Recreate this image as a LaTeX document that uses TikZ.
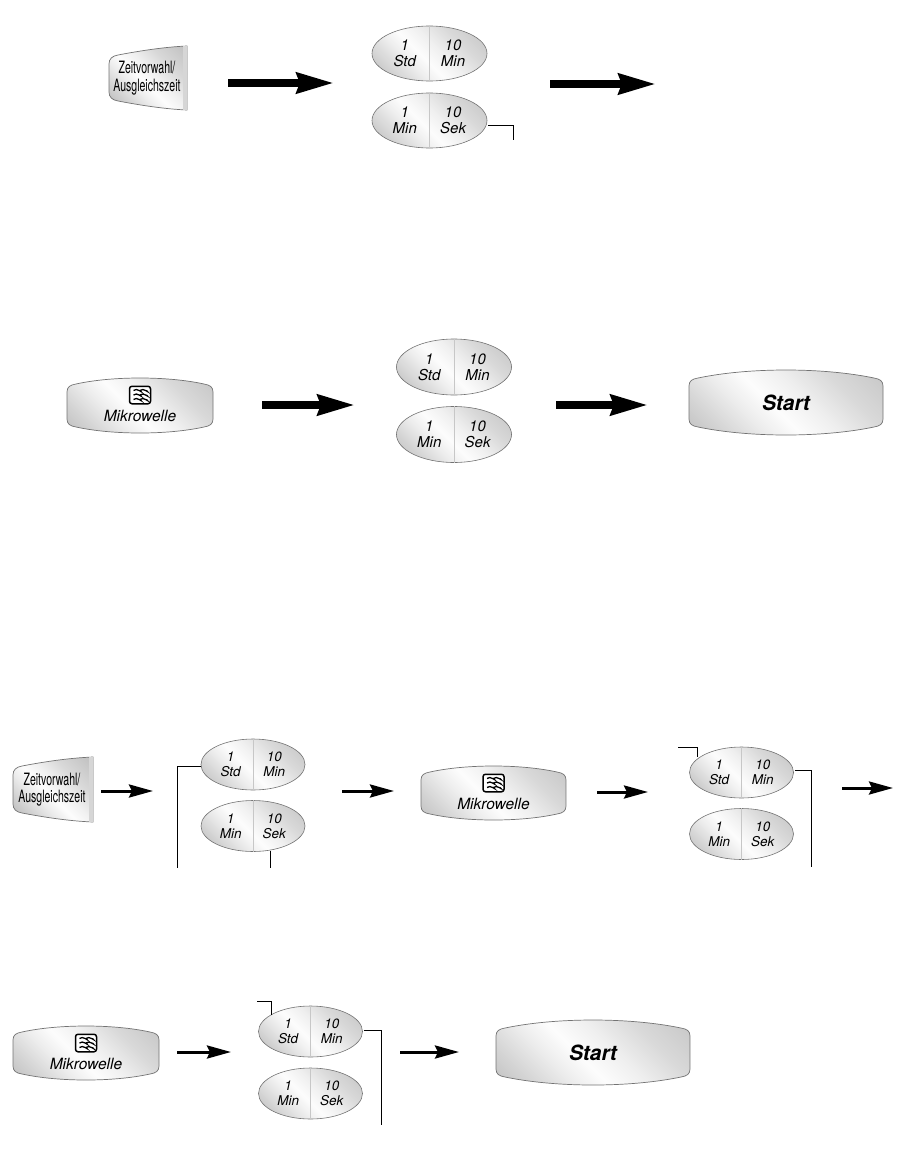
\documentclass[tikz,border=0pt]{standalone}
\usepackage{fontspec}
\setmainfont{TeX Gyre Heros}
\newfontfamily\condfont[FakeStretch=0.62]{TeX Gyre Heros}
\usetikzlibrary{arrows.meta,shapes.geometric}
\pgfdeclarehorizontalshading{silver}{100bp}{
  color(0bp)=(black!28);color(25bp)=(black!26);color(33bp)=(black!17);color(41bp)=(black!7);
  color(47bp)=(black!1);color(54bp)=(black!6);color(63bp)=(black!15);color(75bp)=(black!23);color(100bp)=(black!25)}
\tikzset{
  x=1pt,y=-1pt,
  silverfill/.style={path picture={
    \shade[shading=silver,shading angle=45]
      ([shift={(-#1pt,#1pt)}]path picture bounding box.center) rectangle
      ([shift={(#1pt,-#1pt)}]path picture bounding box.center);}},
  oval/.style={ellipse,draw=black!55,line width=.6pt,inner sep=0pt},
  btnline/.style={draw=black!55,line width=.7pt},
  divider/.style={draw=black!22,line width=.8pt},
  lead/.style={draw=black,line width=.8pt},
  bigarrow/.style={draw=black,line width=8pt,-{Stealth[length=37pt,width=20pt,inset=3pt]},shorten >=-2pt},
  smallarrow/.style={draw=black,line width=3pt,-{Stealth[length=24pt,width=13pt,inset=3pt]},shorten >=-1pt},
  keytext/.style={inner sep=0pt,align=center},
}
% id cx cy rx ry fontsize baseline l1\\l2 r1\\r2
\newcommand{\ovalpair}[9]{%
  \node[oval,silverfill=#4,minimum width=#4*2pt,minimum height=#5*2pt] (#1) at (#2,#3) {};
  \draw[divider] (#1.north) -- (#1.south);
  \node[keytext,font=\fontsize{#6}{#7}\selectfont\itshape] (#1-l) at (#2-#4*.43,#3) {#8};
  \node[keytext,font=\fontsize{#6}{#7}\selectfont\itshape] (#1-r) at (#2+#4*.41,#3) {#9};
}
% bow halfwidth x1 y1 x2 y2
\newcommand{\widebutton}[6]{%
  \path[btnline,silverfill=#2] (#3+9,#4+#1) .. controls (#3+#2*.62,#4-#1/3) and (#5-#2*.62,#4-#1/3) .. (#5-9,#4+#1)
    .. controls (#5-3,#4+#1+1) and (#5,#4+#1+3) .. (#5,#4+#1+8)
    -- (#5,#6-#1-8) .. controls (#5,#6-#1-3) and (#5-3,#6-#1-1) .. (#5-9,#6-#1)
    .. controls (#5-#2*.62,#6+#1/3) and (#3+#2*.62,#6+#1/3) .. (#3+9,#6-#1)
    .. controls (#3+3,#6-#1-1) and (#3,#6-#1-3) .. (#3,#6-#1-8)
    -- (#3,#4+#1+8) .. controls (#3,#4+#1+3) and (#3+3,#4+#1+1) .. (#3+9,#4+#1) -- cycle;
}
% id x1 y1 x2 y2
\newcommand{\zeitbutton}[5]{%
  \path[btnline,silverfill=45] (#2+9,#3+9) .. controls (#2+30,#3+5) and (#2+55,#3+1) .. (#4,#3) -- (#4,#5)
    .. controls (#2+55,#5-1) and (#2+30,#5-5) .. (#2+9,#5-9)
    .. controls (#2+3,#5-10) and (#2,#5-13) .. (#2,#5-18)
    -- (#2,#3+18) .. controls (#2,#3+13) and (#2+3,#3+10) .. (#2+9,#3+9) -- cycle;
  \fill[black!16] (#4-4,#3) -- (#4,#3) -- (#4,#5) -- (#4-4,#5) -- cycle;
  \node[inner sep=0pt,align=center,font=\fontsize{17}{17.5}\condfont] (#1) at (#2*.5+#4*.5-1,#3*.5+#5*.5) {Zeitvorwahl/\\Ausgleichszeit};
}
\newcommand{\mikrobutton}[5]{%
  \widebutton{6}{73}{#2}{#3}{#4}{#5}
  \node[draw=black,line width=1.5pt,rounded corners=2.5pt,fill=white,minimum width=21pt,minimum height=17.5pt,inner sep=0pt] (#1-icon) at (#2*.5+#4*.5,#3+17) {};
  \foreach \dy in {-4.5,0,4.5} {
    \draw[black,line width=1.3pt] ([xshift=-6.5pt,yshift=-\dy pt]#1-icon.center) .. controls +(3,-3.5) and +(3.5,3.5) .. ++(6.5,0) .. controls +(3,-3.5) and +(3.5,3.5) .. ++(6.5,0);
  }
  \node[inner sep=0pt,font=\fontsize{15.5}{18}\selectfont\itshape] (#1) at (#2*.5+#4*.5,#3+38) {Mikrowelle};
}
\newcommand{\startbutton}[5]{%
  \widebutton{8}{97}{#2}{#3}{#4}{#5}
  \node[inner sep=0pt,font=\fontsize{21}{24}\selectfont\bfseries\itshape] (#1) at (#2*.5+#4*.5,#3*.5+#5*.5) {Start};
}
\newcommand{\arrowlink}[5]{%
  \coordinate (#2-from) at (#3,#5);
  \coordinate (#2-to) at (#4,#5);
  \draw[#1] (#2-from) -- (#2-to);
}
\begin{document}
\begin{tikzpicture}
\useasboundingbox (0,0) rectangle (898,1156);
% Row 1
\zeitbutton{zeitA}{109}{46}{187}{110}
\arrowlink{bigarrow}{a1}{228}{332}{83}
\ovalpair{o1}{429.5}{53.5}{57.5}{27.5}{15}{16}{1\\Std}{10\\Min}
\ovalpair{o2}{429.5}{120.5}{57.5}{27.5}{15}{16}{1\\Min}{10\\Sek}
\arrowlink{bigarrow}{a2}{550}{654}{84}
\coordinate (l1) at (513,140);
\draw[lead] (o2.east) ++(1,5) -| (l1);
% Row 2
\mikrobutton{mikA}{67}{378}{213}{433}
\arrowlink{bigarrow}{a3}{262}{353}{405}
\ovalpair{o3}{454}{367}{57.5}{28}{15}{16}{1\\Std}{10\\Min}
\ovalpair{o4}{454}{434.5}{57.5}{28}{15}{16}{1\\Min}{10\\Sek}
\arrowlink{bigarrow}{a4}{556}{646}{405}
\startbutton{startA}{689}{370}{883}{435}
% Row 3
\zeitbutton{zeitB}{13}{757}{93}{822}
\arrowlink{smallarrow}{a5}{101}{152}{791}
\ovalpair{o5}{253}{764.5}{52}{25.5}{13.5}{15}{1\\Std}{10\\Min}
\ovalpair{o6}{253}{826}{52}{25.5}{13.5}{15}{1\\Min}{10\\Sek}
\arrowlink{smallarrow}{a6}{342}{393}{791}
\mikrobutton{mikB}{421}{766}{566}{820}
\arrowlink{smallarrow}{a7}{597}{647}{792}
\ovalpair{o7}{741.5}{772.5}{52}{25.5}{13.5}{15}{1\\Std}{10\\Min}
\ovalpair{o8}{741.5}{834}{52}{25.5}{13.5}{15}{1\\Min}{10\\Sek}
\arrowlink{smallarrow}{a8}{842}{892}{788}
\coordinate (l2) at (177,868);
\draw[lead] (o5.west) ++(0,2) -| (l2);
\coordinate (l3) at (270,868);
\draw[lead] (o6.south -| l3) ++(0,-1) -- (l3);
\coordinate (l4) at (678,747);
\coordinate (l5) at (697,757);
\draw[lead] (l4) -| (l5);
\coordinate (l6) at (811,867);
\draw[lead] (o7.east) ++(1,-2) -| (l6);
% Row 4
\mikrobutton{mikC}{13}{1026}{159}{1080}
\arrowlink{smallarrow}{a9}{177}{230}{1052}
\ovalpair{o9}{310.5}{1031.5}{52}{25.5}{13.5}{15}{1\\Std}{10\\Min}
\ovalpair{o10}{310.5}{1093.5}{52}{25.5}{13.5}{15}{1\\Min}{10\\Sek}
\arrowlink{smallarrow}{a10}{400}{458}{1052}
\startbutton{startB}{496}{1020}{690}{1085}
\coordinate (l7) at (257,1001);
\coordinate (l8) at (271,1015);
\draw[lead] (l7) -| (l8);
\coordinate (l9) at (381,1125);
\draw[lead] (o9.east) ++(1,-1) -| (l9);
\end{tikzpicture}
\end{document}
